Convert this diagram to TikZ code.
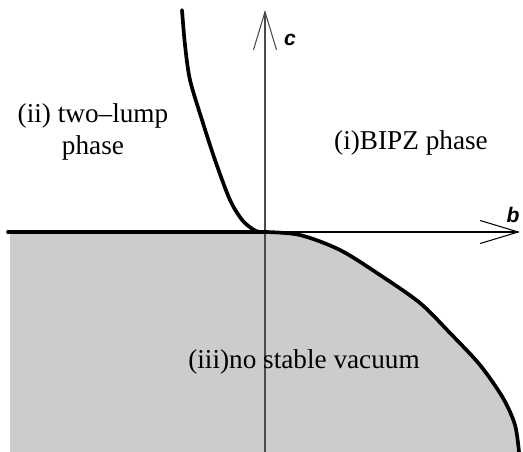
\documentclass[tikz,border=0pt]{standalone}
\usepackage{fontspec}
\setmainfont{Liberation Serif}
\setsansfont{Liberation Sans}
\usepackage{xcolor}
\usetikzlibrary{arrows.meta,positioning}
\definecolor{unstable}{HTML}{CCCCCC}
\definecolor{axisgrey}{HTML}{4A4A4A}

\begin{document}
\begin{tikzpicture}[x=0.02cm, y=-0.02cm,
  axis/.style={line width=0.6pt, -{Straight Barb[length=7.6mm,width=4.6mm]}},
  border/.style={line width=2.1pt, line cap=round, line join=round},
  phase/.style={font=\fontsize{15.5}{18}\selectfont, align=center, inner sep=0pt},
  axlab/.style={font=\sffamily\bfseries\itshape\fontsize{12}{14}\selectfont, inner sep=0pt}]
  \useasboundingbox (0,0) rectangle (523,452);
  \coordinate (O) at (265,232);
  \coordinate (left) at (8,232);
  \coordinate (cbot) at (265,452);
  \coordinate (ctip) at (265,10);
  \coordinate (btip) at (520,232);
  % region (iii)
  \fill[unstable] (10,234) -- (O)
    -- plot[smooth] coordinates {(265,232) (300,235) (340,250) (380,275) (420,303)
      (450,333) (480,365) (503,398) (515,425) (519,452)}
    -- (10,452) -- cycle;
  % axes
  \draw[axis, axisgrey] (cbot) -- (ctip);
  \draw[axis] (O) -- (btip);
  \node[axlab] (c) at (290,40) {c};
  \node[axlab] (b) at (513,215) {b};
  % phase boundaries
  \draw[border] (left) -- (O);
  \draw[border] plot[smooth] coordinates {(265,232) (300,235) (340,250) (380,275)
    (420,303) (450,333) (480,365) (503,398) (515,425) (519,452)};
  \draw[border] plot[smooth] coordinates {(182,10) (185,45) (190,80) (202,120)
    (215,160) (230,200) (243,221) (256,231) (265,232)};
  % labels
  \node[phase] (two) at (93,132) {(ii) two--lump\\phase};
  \node[phase] (bipz) at (411,143) {(i)BIPZ phase};
  \node[phase] (none) at (304,362) {(iii)no stable vacuum};
\end{tikzpicture}
\end{document}
